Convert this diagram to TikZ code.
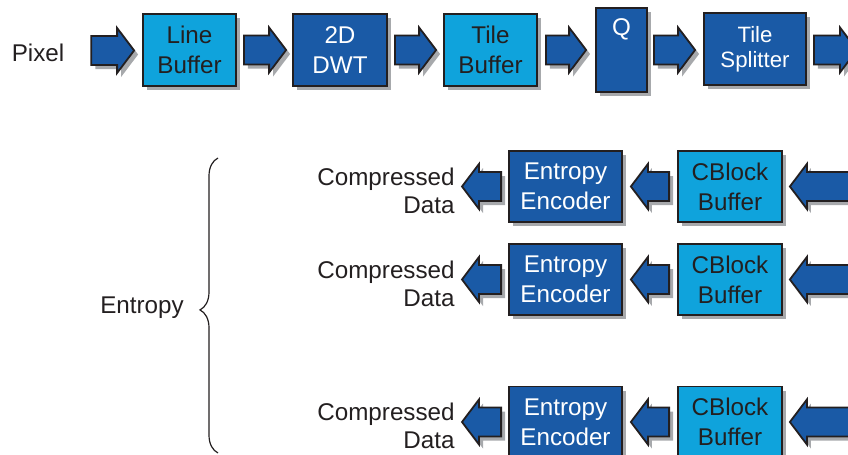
\documentclass[tikz,border=0pt]{standalone}
\usepackage{fontspec}
\setmainfont{Liberation Sans}
\usetikzlibrary{calc,shadows,decorations.pathreplacing}

\definecolor{darkblue}{HTML}{1A5AA6}
\definecolor{lightblue}{HTML}{0FA3DC}
\definecolor{inkgray}{HTML}{231F20}
\definecolor{shadowgray}{HTML}{A7A9AC}

\tikzset{
    shade box/.style={drop shadow={shadow xshift=2pt, shadow yshift=-2pt, fill=shadowgray, opacity=1}},
    block/.style={draw=inkgray, line width=0.9pt, shade box, inner sep=0pt, align=center,
        font={\fontsize{12.1}{15}\selectfont}},
    darkblock/.style={block, fill=darkblue, text=white},
    lightblock/.style={block, fill=lightblue, text=inkgray},
    blockarrow/.style={draw=inkgray, line width=0.9pt, fill=darkblue, shade box, line join=miter},
    sidetext/.style={text=inkgray, align=right, font={\fontsize{12.1}{14}\selectfont}},
    bracestyle/.style={draw=inkgray, line width=0.6pt},
}

% fat arrow from #1 (tail) to #2 (tip)
\newcommand{\blockarrow}[2]{%
    \draw[blockarrow] let \p1=(#1), \p2=(#2), \n1={ifthenelse(\x2>\x1,1,-1)} in
        (\x1,{\y1+7.25pt}) -- ({\x2-\n1*8.5pt},{\y1+7.25pt}) -- ({\x2-\n1*8.5pt},{\y1+11.25pt}) -- (\x2,\y1)
        -- ({\x2-\n1*8.5pt},{\y1-11.25pt}) -- ({\x2-\n1*8.5pt},{\y1-7.25pt}) -- (\x1,{\y1-7.25pt}) -- cycle;
}

\begin{document}
\begin{tikzpicture}[x=0.5pt, y=-0.5pt]
    \useasboundingbox (0,0) rectangle (848,455);
    \clip (0,0) rectangle (848,455);

    % Top row: pixel pipeline
    \node[sidetext] (pixel) at (38,52.5) {Pixel};
    \node[lightblock, minimum width=46.5pt, minimum height=36pt] (lb) at (189.5,50) {Line\\Buffer};
    \node[darkblock, minimum width=47pt, minimum height=36pt] (dwt) at (340,50) {2D\\DWT};
    \node[lightblock, minimum width=46.5pt, minimum height=36pt] (tb) at (490.5,50) {Tile\\Buffer};
    \node[darkblock, minimum width=25.5pt, minimum height=42pt] (q) at (621.5,50) {};
    \node[text=white, font={\fontsize{12.1}{15}\selectfont}] (qlabel) at ($(q.north)+(0,22)$) {Q};
    \node[darkblock, minimum width=51pt, minimum height=36pt,
        font={\fontsize{11.1}{12.5}\selectfont}] (ts) at (755,49) {Tile\\Splitter};
    \coordinate (tsout) at (857,50);

    % Arrows between the top blocks
    \blockarrow{$(pixel.east)+(20,-2)$}{$(lb.west)+(-8,0)$}
    \blockarrow{$(lb.east)+(7,0)$}{$(dwt.west)+(-6,0)$}
    \blockarrow{$(dwt.east)+(7,0)$}{$(tb.west)+(-7,0)$}
    \blockarrow{$(tb.east)+(8,0)$}{$(q.west)+(-9,0)$}
    \blockarrow{$(q.east)+(6,0)$}{$(ts.west)+(-8,1)$}
    \blockarrow{$(ts.east)+(7,1)$}{tsout}

    % Entropy coding rows
    \foreach \i/\y in {1/186.5, 2/279.5, 3/422} {
        \node[darkblock, minimum width=56.5pt, minimum height=35.5pt] (ee\i) at (565.5,\y) {Entropy\\Encoder};
        \node[lightblock, minimum width=52pt, minimum height=35.5pt] (cb\i) at (730,\y) {CBlock\\Buffer};
        \node[sidetext, anchor=east, inner sep=0pt] (cd\i) at (455,\y+4) {Compressed\\Data};
        \coordinate (in\i) at (870,\y);
        \blockarrow{in\i}{$(cb\i.east)+(7,0)$}
        \blockarrow{$(cb\i.west)+(-8,0)$}{$(ee\i.east)+(8,0)$}
        \blockarrow{$(ee\i.west)+(-7,0)$}{$(cd\i.east)+(7,-4)$}
    }

    % Brace
    \node[sidetext] (entropy) at (142,308) {Entropy};
    \draw[bracestyle, decorate, decoration={brace, amplitude=9pt, aspect=0.485}] (218,453) -- (218,158);
\end{tikzpicture}
\end{document}
